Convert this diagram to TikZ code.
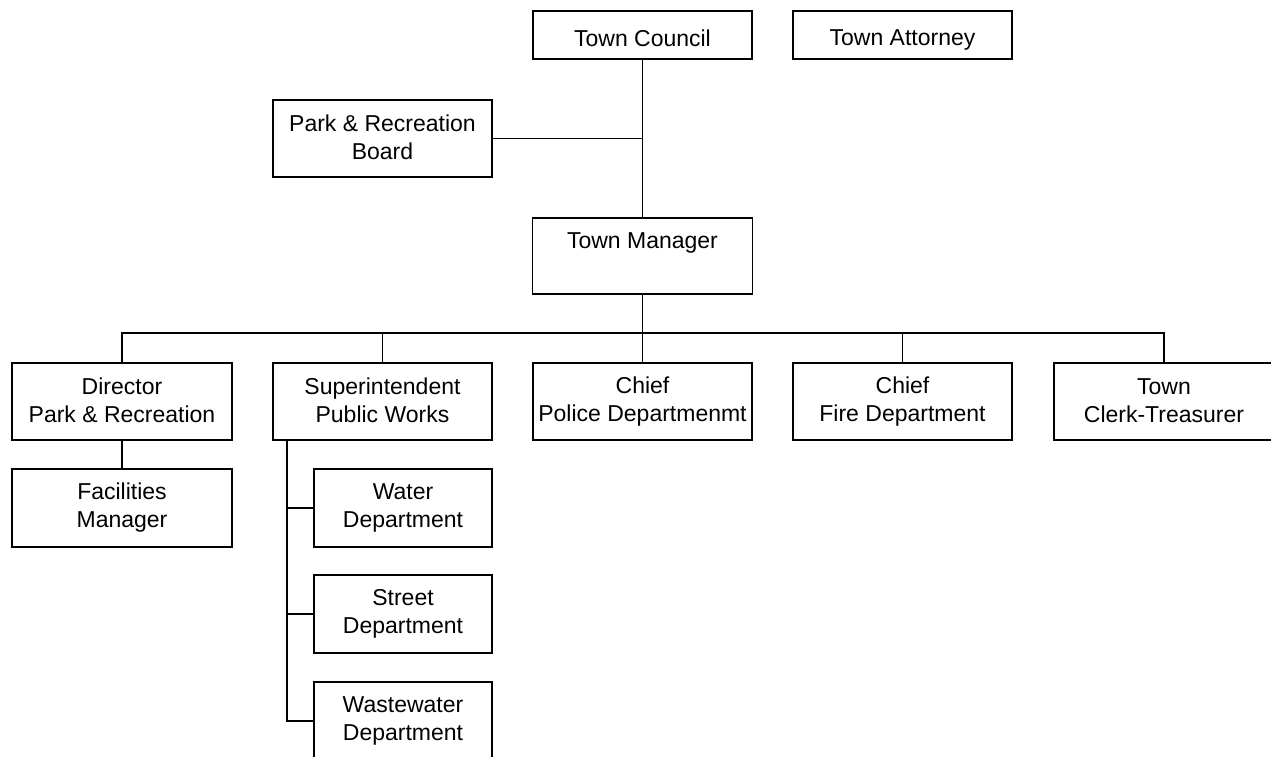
\documentclass[tikz,border=0pt]{standalone}
\usepackage{fontspec}
\setmainfont{Liberation Sans}
\newcommand{\boxstrut}{\rule[-2.5pt]{0pt}{28pt}}
\begin{document}
\begin{tikzpicture}[x=1pt,y=-1pt,
  box/.style={draw, line width=1.6pt, minimum width=219pt, minimum height=77pt, inner sep=0pt, align=center, font=\fontsize{23}{28}\selectfont, execute at begin node=\boxstrut, execute at end node=\boxstrut},
  link/.style={line width=1.6pt}]
\useasboundingbox (0,0) rectangle (1271,756);
\fill[white] (0,0) rectangle (1271,756);
% top
\node[box, minimum height=48pt] (tc) at (642.5,35) {Town Council};
\node[box, minimum height=48pt] (ta) at (902.5,35) {Town Attorney};
\node[box] (prb) at (382.5,138.5) {Park \& Recreation\\Board};
\node[box, minimum width=220pt, minimum height=76pt] (tm) at (642.5,256) {Town Manager\\\mbox{}};
% row
\node[box, minimum width=220pt] (dir) at (122,401.5) {Director\\Park \& Recreation};
\node[box] (sup) at (382.5,401.5) {Superintendent\\Public Works};
\node[box] (pol) at (642.5,401.5) {Chief\\Police Departmenmt};
\node[box] (fire) at (902.5,401.5) {Chief\\Fire Department};
\node[box, minimum width=220pt] (clerk) at (1164,401.5) {Town\\Clerk-Treasurer};
% lower
\node[box, minimum width=220pt, minimum height=78pt] (fac) at (122,508) {Facilities\\Manager};
\node[box, minimum width=178pt, minimum height=78pt] (water) at (403,508) {Water\\Department};
\node[box, minimum width=178pt, minimum height=78pt] (street) at (403,614) {Street\\Department};
\node[box, minimum width=178pt, minimum height=78pt] (waste) at (403,721) {Wastewater\\Department};
% connectors
\coordinate (bus) at (642.5,333);
\draw[link] (tc.south) -- (tm.north);
\draw[link] (prb.east) -- (prb.east -| tc.south);
\draw[link] (tm.south) -- (bus);
\draw[link] (dir.north) -- (dir.north |- bus) -- (clerk.north |- bus) -- (clerk.north);
\draw[link] (sup.north) -- (sup.north |- bus);
\draw[link] (pol.north) -- (pol.north |- bus);
\draw[link] (fire.north) -- (fire.north |- bus);
\draw[link] (dir.south) -- (fac.north);
\coordinate (sp) at ([xshift=15pt]sup.south west);
\draw[link] (sp) |- (waste.west);
\draw[link] (sp |- water.west) -- (water.west);
\draw[link] (sp |- street.west) -- (street.west);
\end{tikzpicture}
\end{document}
